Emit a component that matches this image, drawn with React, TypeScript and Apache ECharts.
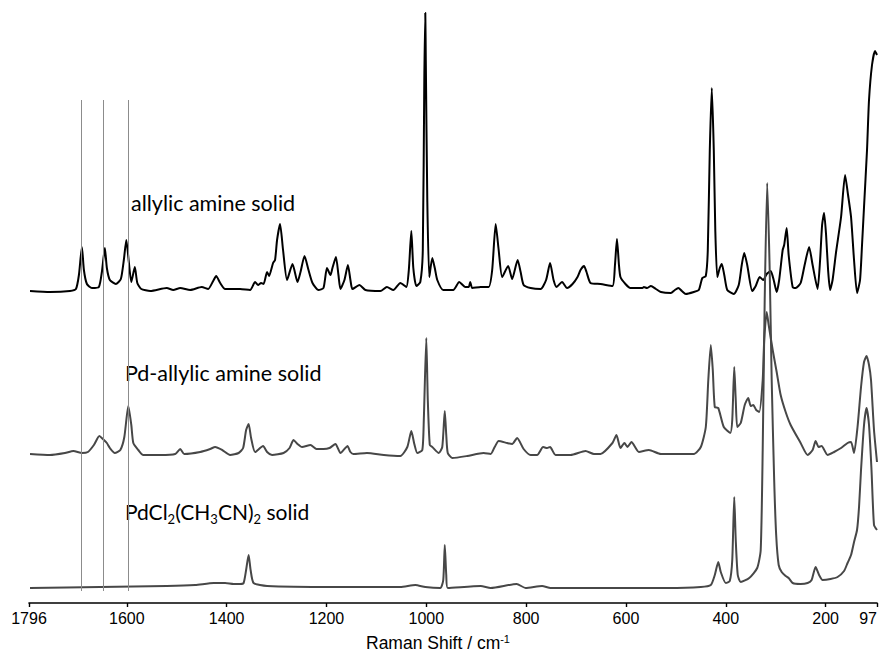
import React, { useEffect, useRef } from 'react';
import * as echarts from 'echarts';

// Raman shift axis (cm-1), reversed
const tickValues = [97, 200, 400, 600, 800, 1000, 1200, 1400, 1600, 1796];
const shiftMin = 97;
const shiftMax = 1796;
const referenceShifts = [1692, 1647, 1598];
const referenceSpan = [12, 503];

// Stacking offsets (arbitrary intensity units)
const allylicOffset = 312;
const pdAllylicOffset = 148;
const pdCl2Offset = 15;

// [shift, intensity]
const allylicAmine: [number, number][] = [
  [1794, 0], [1754, -1], [1714, 0], [1702, 2], [1696, 16], [1690, 44], [1686, 21], [1680, 7], [1670, 3], [1656, 4],
  [1650, 19], [1644, 43], [1640, 23], [1634, 11], [1622, 7], [1612, 12], [1606, 31], [1601, 51], [1596, 29], [1591, 9],
  [1584, 24], [1579, 8], [1571, 2], [1553, 0], [1520, 3], [1507, 1], [1493, 3], [1473, 1], [1450, 4], [1437, 2],
  [1427, 10], [1421, 15], [1413, 8], [1403, 2], [1373, 2], [1353, 1], [1343, 9], [1337, 6], [1331, 8], [1326, 7],
  [1319, 19], [1315, 15], [1307, 28], [1303, 31], [1299, 51], [1293, 67], [1287, 41], [1279, 11], [1268, 27], [1258, 9],
  [1252, 19], [1244, 35], [1236, 21], [1228, 8], [1216, 1], [1206, 3], [1199, 23], [1192, 16], [1188, 23], [1181, 34],
  [1176, 16], [1172, 2], [1164, 11], [1157, 26], [1152, 11], [1148, 2], [1134, 6], [1122, 1], [1092, 0], [1079, 4],
  [1066, 1], [1052, 8], [1040, 4], [1035, 21], [1030, 60], [1026, 23], [1020, 5], [1012, 9], [1007, 41], [1004, 211],
  [1002, 278], [1001, 231], [998, 91], [994, 14], [988, 33], [983, 23], [978, 11], [966, 1], [946, 1], [934, 9],
  [922, 4], [915, 4], [912, 9], [908, 3], [891, 4], [875, 4], [868, 21], [861, 67], [855, 41], [848, 14],
  [836, 25], [828, 12], [817, 31], [811, 19], [805, 6], [791, 3], [771, 2], [760, 11], [752, 28], [745, 11],
  [739, 4], [728, 9], [718, 3], [707, 7], [697, 14], [691, 21], [684, 25], [679, 19], [671, 8], [651, 7],
  [627, 5], [622, 26], [618, 52], [614, 26], [611, 14], [601, 7], [591, 3], [567, 3], [564, 4], [558, 3],
  [550, 5], [540, 2], [530, -1], [510, -2], [502, 1], [495, 3], [488, 0], [480, -3], [464, -1], [454, 1],
  [447, 13], [440, 15], [436, 41], [432, 141], [428, 203], [424, 141], [421, 61], [417, 14], [412, 23], [408, 27],
  [403, 16], [397, 1], [384, -3], [374, 6], [368, 26], [363, 38], [357, 26], [347, 0], [340, 5], [332, 14],
  [325, 11], [318, 17], [310, 20], [304, 11], [298, -1], [293, 11], [286, 41], [283, 46], [278, 63], [274, 36],
  [266, 4], [260, 3], [250, 8], [242, 26], [233, 44], [226, 26], [216, 2], [211, 31], [207, 66], [203, 78],
  [199, 56], [195, 21], [191, 1], [186, 11], [179, 39], [169, 74], [161, 116], [155, 96], [149, 74], [143, 31],
  [137, -2], [131, 11], [127, 46], [123, 84], [117, 141], [113, 191], [107, 226], [101, 240], [97, 236],
];

const pdAllylicAmine: [number, number][] = [
  [1794, 1], [1754, 0], [1724, 2], [1707, 4], [1690, 2], [1678, 3], [1666, 10], [1655, 19], [1648, 16], [1640, 12],
  [1634, 7], [1624, 2], [1613, 5], [1605, 18], [1597, 49], [1591, 30], [1587, 12], [1577, 5], [1567, 0], [1533, 0],
  [1503, 1], [1493, 6], [1485, 1], [1453, 3], [1433, 6], [1423, 8], [1409, 5], [1393, 0], [1376, 2], [1367, 7],
  [1361, 25], [1356, 31], [1351, 17], [1343, 3], [1327, 9], [1319, 3], [1309, 0], [1286, 2], [1274, 7], [1266, 15],
  [1258, 11], [1249, 8], [1232, 10], [1220, 6], [1206, 6], [1194, 7], [1182, 11], [1172, 2], [1164, 6], [1158, 9],
  [1152, 3], [1146, 1], [1119, 2], [1085, 0], [1052, -1], [1038, 8], [1030, 24], [1024, 11], [1018, 2], [1008, 5],
  [1005, 35], [1000, 117], [997, 55], [993, 10], [988, 8], [975, 2], [968, 8], [963, 44], [960, 20], [957, 2],
  [948, -3], [918, -1], [885, 2], [871, 1], [863, 8], [855, 14], [838, 12], [828, 11], [818, 17], [805, 6],
  [791, 0], [778, 0], [766, 8], [758, 7], [752, 8], [741, 0], [711, 0], [681, 4], [664, 1], [651, 1],
  [627, 12], [619, 20], [611, 7], [603, 12], [597, 8], [589, 13], [574, 3], [554, 5], [530, 1], [464, 1],
  [450, 8], [440, 28], [435, 75], [430, 110], [426, 85], [422, 48], [415, 47], [404, 28], [391, 22], [387, 35],
  [383, 88], [380, 55], [377, 28], [370, 32], [362, 50], [355, 57], [350, 49], [345, 50], [339, 45], [333, 43],
  [326, 75], [323, 115], [318, 143], [314, 130], [306, 105], [298, 83], [290, 60], [280, 43], [270, 30], [250, 12],
  [236, 0], [226, 5], [220, 14], [214, 8], [208, 9], [196, 0], [183, 3], [169, 7], [156, 12], [149, 13],
  [143, 2], [136, 28], [129, 68], [123, 93], [118, 99], [113, 90], [109, 75], [103, 25], [97, -7],
];

const pdCl2: [number, number][] = [
  [1794, 0], [1654, 1], [1520, 2], [1463, 3], [1426, 5], [1403, 5], [1386, 4], [1373, 4], [1366, 5], [1361, 18],
  [1356, 33], [1352, 18], [1346, 5], [1319, 2], [1186, 1], [1052, 1], [1022, 3], [1002, 1], [972, 0], [966, 8],
  [963, 43], [960, 13], [957, 0], [891, 2], [871, 0], [819, 4], [801, 0], [768, 2], [751, 0], [651, 0],
  [516, 0], [450, 1], [430, 3], [422, 13], [415, 26], [410, 16], [400, 5], [392, 7], [387, 28], [383, 91],
  [380, 48], [376, 13], [370, 6], [353, 10], [337, 20], [330, 38], [326, 138], [322, 288], [317, 405], [312, 318],
  [308, 208], [303, 108], [299, 53], [294, 23], [288, 16], [280, 12], [274, 10], [266, 5], [250, 4], [236, 5],
  [228, 8], [220, 21], [213, 13], [206, 8], [190, 9], [176, 11], [163, 17], [156, 25], [149, 33], [143, 46],
  [137, 58], [133, 81], [129, 118], [123, 163], [118, 180], [113, 163], [108, 118], [103, 63], [97, 58],
];

const labelTop = 'allylic amine solid';
const labelMid = 'Pd-allylic amine solid';
const labelBottom = '{n|PdCl}{s|2}{n|(CH}{s|3}{n|CN)}{s|2}{n| solid}';
const axisTitle = '{n|Raman Shift / cm}{p|-1}';

const shift = (d: [number, number][], off: number) => d.map(([x, y]) => [x, y + off]);

export default function App() {
  const ref = useRef<HTMLDivElement>(null);
  useEffect(() => {
    document.body.style.margin = '0';
    const chart = echarts.init(ref.current!, null, { renderer: 'svg' });
    const labelFont = 'Lato, "Noto Sans", sans-serif';
    const axisFont = '"Liberation Sans", Arial, sans-serif';
    const smooth = 0.2;
    chart.setOption({
      animation: false,
      backgroundColor: '#fff',
      grid: { left: 29, right: 3, top: 0, bottom: 50, containLabel: false, outerBoundsMode: 'none' },
      xAxis: {
        type: 'value',
        inverse: true,
        min: shiftMin,
        max: shiftMax,
        splitLine: { show: false },
        axisLine: { show: true, onZero: false, lineStyle: { color: '#000', width: 1.6 } },
        axisTick: { show: true, customValues: tickValues, length: 4, lineStyle: { color: '#000', width: 1.4 } },
        axisLabel: {
          customValues: tickValues,
          formatter: (v: number) => String(v),
          color: '#000',
          fontSize: 16,
          fontFamily: axisFont,
          margin: 7,
          hideOverlap: false,
          showMinLabel: true,
          showMaxLabel: true,
          alignMinLabel: 'right',
        },
      },
      yAxis: { type: 'value', min: 0, max: 603, show: false },
      series: [
        {
          type: 'line',
          name: 'allylic amine solid',
          data: shift(allylicAmine, allylicOffset),
          showSymbol: false,
          symbol: 'none',
          smooth,
          lineStyle: { color: '#000', width: 2, join: 'round' },
          z: 2,
          markLine: {
            silent: true,
            symbol: 'none',
            label: { show: false },
            lineStyle: { color: '#8c8c8c', width: 1, type: 'solid' },
            data: referenceShifts.map((s) => [
              { coord: [s, referenceSpan[0]] },
              { coord: [s, referenceSpan[1]] },
            ]),
          },
        },
        {
          type: 'line',
          name: 'Pd-allylic amine solid',
          data: shift(pdAllylicAmine, pdAllylicOffset),
          showSymbol: false,
          symbol: 'none',
          smooth,
          lineStyle: { color: '#474747', width: 2, join: 'round' },
          z: 3,
        },
        {
          type: 'line',
          name: 'PdCl2(CH3CN)2 solid',
          data: shift(pdCl2, pdCl2Offset),
          showSymbol: false,
          symbol: 'none',
          smooth,
          lineStyle: { color: '#474747', width: 2, join: 'round' },
          z: 4,
        },
      ],
      graphic: [
        {
          type: 'text',
          x: 131,
          y: 203,
          style: { text: labelTop, fontSize: 21.5, fontFamily: labelFont, fill: '#000', align: 'left', verticalAlign: 'middle' },
        },
        {
          type: 'text',
          x: 125,
          y: 373,
          style: { text: labelMid, fontSize: 21.5, fontFamily: labelFont, fill: '#000', align: 'left', verticalAlign: 'middle' },
        },
        {
          type: 'text',
          x: 125,
          y: 511,
          style: {
            text: labelBottom,
            fill: '#000',
            align: 'left',
            verticalAlign: 'middle',
            rich: {
              n: { fontSize: 21, fontFamily: labelFont, lineHeight: 28, fill: '#000' },
              s: { fontSize: 13, fontFamily: labelFont, lineHeight: 14, verticalAlign: 'bottom', fill: '#000' },
            },
          },
        },
        {
          type: 'text',
          x: 366,
          y: 643,
          style: {
            text: axisTitle,
            fill: '#000',
            align: 'left',
            verticalAlign: 'middle',
            rich: {
              n: { fontSize: 17.5, fontFamily: axisFont, lineHeight: 20, fill: '#000' },
              p: { fontSize: 11, fontFamily: axisFont, lineHeight: 11, verticalAlign: 'top', fill: '#000' },
            },
          },
        },
      ],
    });
    return () => chart.dispose();
  }, []);
  return <div ref={ref} style={{ width: 880, height: 653 }} />;
}
